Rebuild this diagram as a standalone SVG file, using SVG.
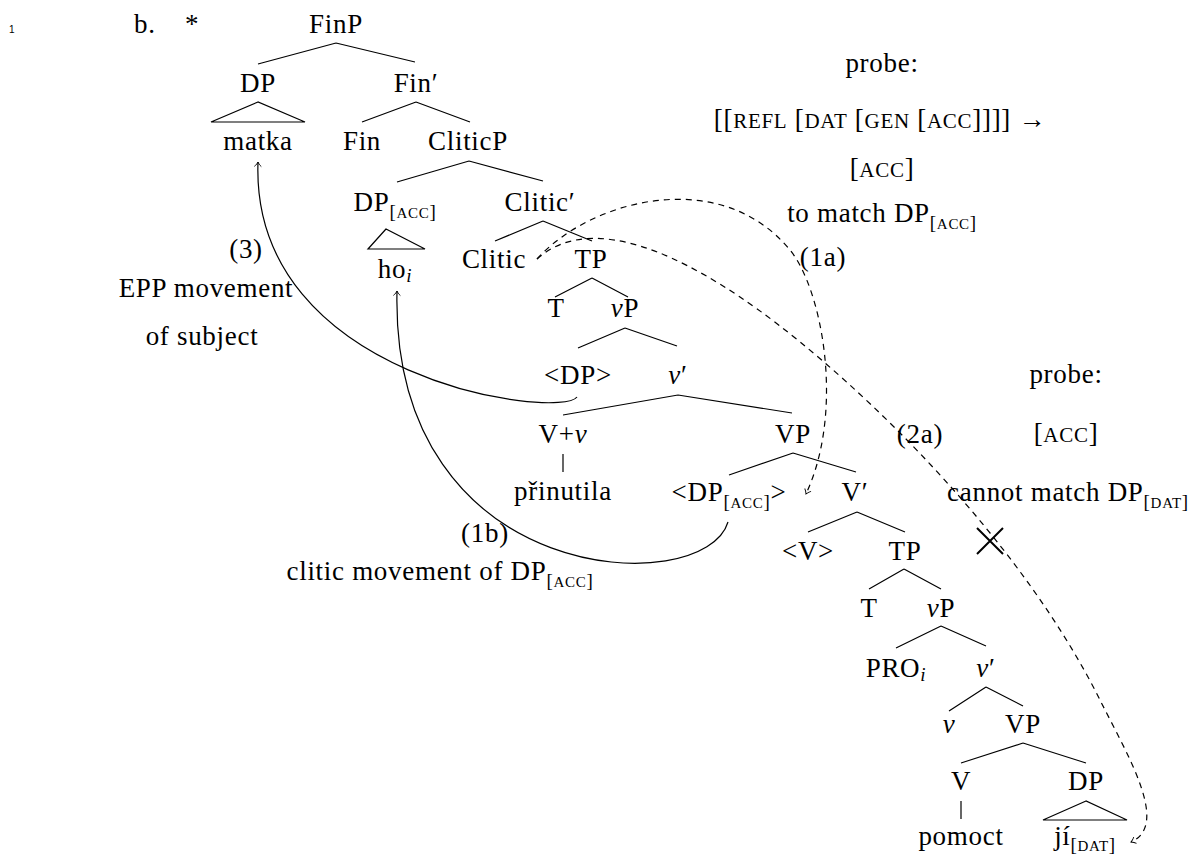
<svg xmlns="http://www.w3.org/2000/svg" width="1196" height="854" viewBox="0 0 1196 854">
<style>
text{font-family:"Liberation Serif","DejaVu Serif",serif;font-size:27px;letter-spacing:0.7px;fill:#000;text-anchor:middle}
.ln{font-family:"Liberation Sans",sans-serif;font-size:10px;letter-spacing:0;text-anchor:start}
.st{text-anchor:start}
.sc{font-size:21px}
.sb{font-size:19px}
.sbc{font-size:15px}
.it{font-style:italic}
.e{stroke:#000;stroke-width:1.2;fill:none}
.d{stroke-dasharray:6 5}
.x{stroke:#000;stroke-width:2;fill:none}
</style>
<defs>
<marker id="ah" viewBox="-6 -5 8 10" markerWidth="8" markerHeight="10" refX="0" refY="0" orient="auto" markerUnits="userSpaceOnUse"><path d="M-4.5,-3.5 C-3,-1.5 -1,-0.5 0,0 C-1,0.5 -3,1.5 -4.5,3.5" fill="none" stroke="#000" stroke-width="0.9"/></marker>
</defs>
<rect width="1196" height="854" fill="#fff"/>
<text class="ln" x="9" y="33">1</text>
<text class="st" x="134" y="33">b.</text>
<text x="192" y="33">*</text>

<g id="connectors">
<path class="e" d="M336,43L258,64M336,43L415,62"/>
<path class="e" d="M258,102L211,122L305,122Z"/>
<path class="e" d="M416,102L362,122M416,102L470,122"/>
<path class="e" d="M469,161L397,182M469,161L543,181"/>
<path class="e" d="M386,229L368,249L425,249Z"/>
<path class="e" d="M543,221L495,241M543,221L592,241"/>
<path class="e" d="M592,278L555,297M592,278L628,297"/>
<path class="e" d="M625,328L578,348M625,328L677,346"/>
<path class="e" d="M678,395L563,415M678,395L792,413"/>
<path class="e" d="M563,454L563,472"/>
<path class="e" d="M793,453L729,475M793,453L856,472"/>
<path class="e" d="M857,512L808,532M857,512L905,532"/>
<path class="e" d="M904,569L869,589M904,569L941,589"/>
<path class="e" d="M941,626L896,648M941,626L986,646"/>
<path class="e" d="M986,687L949,711M986,687L1023,706"/>
<path class="e" d="M1023,743L961,763M1023,743L1086,763"/>
<path class="e" d="M961,801L961,819"/>
<path class="e" d="M1086,801L1043,820L1127,820Z"/>
<path id="arr3" class="e" d="M577,397C560,420 250,380 258,162" marker-end="url(#ah)"/>
<path id="arr1b" class="e" d="M728,522C705,600 390,590 397,291" marker-end="url(#ah)"/>
<path id="arr1a" class="e d" d="M537,259C590,200 720,165 790,250C822,289 845,410 806,494" marker-end="url(#ah)"/>
<path id="arr2a" class="e d" d="M537,259C575,225 640,230 740,297C830,357 1010,520 1100,700C1128,756 1170,825 1131,842" marker-end="url(#ah)"/>
<path class="x" d="M977,528L1003,554M977,554L1003,528"/>
</g>

<g id="n-FinP"><text x="336" y="33">FinP</text></g>
<g id="n-DP1"><text x="258" y="92">DP</text></g>
<g id="n-FinBar"><text x="416" y="92">Fin′</text></g>
<g id="n-matka"><text x="258" y="150">matka</text></g>
<g id="n-Fin"><text x="362" y="150">Fin</text></g>
<g id="n-CliticP"><text x="468" y="150">CliticP</text></g>
<g id="n-DPacc"><text x="395" y="211">DP<tspan class="sb" dy="7">[</tspan><tspan class="sbc">ACC</tspan><tspan class="sb">]</tspan></text></g>
<g id="n-CliticBar"><text x="540" y="211">Clitic′</text></g>
<g id="n-ho"><text x="395" y="278">ho<tspan class="sb it" dy="4">i</tspan></text></g>
<g id="n-Clitic"><text x="494" y="268">Clitic</text></g>
<g id="n-TP1"><text x="591" y="268">TP</text></g>
<g id="n-T1"><text x="556" y="317">T</text></g>
<g id="n-vP1"><text x="625" y="317"><tspan class="it">v</tspan>P</text></g>
<g id="n-DPtrace"><text x="578" y="384">&lt;DP&gt;</text></g>
<g id="n-vBar1"><text x="678" y="384"><tspan class="it">v</tspan>′</text></g>
<g id="n-Vv"><text x="563" y="443">V+<tspan class="it">v</tspan></text></g>
<g id="n-VP1"><text x="793" y="443">VP</text></g>
<g id="n-prinutila"><text x="563" y="500">přinutila</text></g>
<g id="n-DPacctrace"><text x="729" y="501">&lt;DP<tspan class="sb" dy="7">[</tspan><tspan class="sbc">ACC</tspan><tspan class="sb">]</tspan><tspan dy="-7">&gt;</tspan></text></g>
<g id="n-VBar"><text x="855" y="501">V′</text></g>
<g id="n-Vtrace"><text x="808" y="560">&lt;V&gt;</text></g>
<g id="n-TP2"><text x="905" y="560">TP</text></g>
<g id="n-T2"><text x="869" y="617">T</text></g>
<g id="n-vP2"><text x="941" y="617"><tspan class="it">v</tspan>P</text></g>
<g id="n-PRO"><text x="896" y="677">PRO<tspan class="sb it" dy="4">i</tspan></text></g>
<g id="n-vBar2"><text x="986" y="677"><tspan class="it">v</tspan>′</text></g>
<g id="n-v"><text x="949" y="733" class="it">v</text></g>
<g id="n-VP2"><text x="1023" y="733">VP</text></g>
<g id="n-V"><text x="961" y="790">V</text></g>
<g id="n-DP2"><text x="1086" y="790">DP</text></g>
<g id="n-pomoct"><text x="961" y="845">pomoct</text></g>
<g id="n-ji"><text x="1085" y="845">jí<tspan class="sb" dy="6">[</tspan><tspan class="sbc">DAT</tspan><tspan class="sb">]</tspan></text></g>

<g id="label-1a">
<text x="882" y="72">probe:</text>
<text x="880" y="128">[[<tspan class="sc">REFL</tspan> [<tspan class="sc">DAT</tspan> [<tspan class="sc">GEN</tspan> [<tspan class="sc">ACC</tspan>]]]] →</text>
<text x="882" y="177">[<tspan class="sc">ACC</tspan>]</text>
<text x="882" y="222">to match DP<tspan class="sb" dy="7">[</tspan><tspan class="sbc">ACC</tspan><tspan class="sb">]</tspan></text>
<text x="823" y="266">(1a)</text>
</g>
<g id="label-2a">
<text x="1066" y="383">probe:</text>
<text x="1066" y="442">[<tspan class="sc">ACC</tspan>]</text>
<text x="1068" y="501">cannot match DP<tspan class="sb" dy="7">[</tspan><tspan class="sbc">DAT</tspan><tspan class="sb">]</tspan></text>
<text x="920" y="443">(2a)</text>
</g>
<g id="label-3">
<text x="246" y="258">(3)</text>
<text x="206" y="297">EPP movement</text>
<text x="202" y="345">of subject</text>
</g>
<g id="label-1b">
<text x="485" y="542">(1b)</text>
<text x="440" y="580">clitic movement of DP<tspan class="sb" dy="7">[</tspan><tspan class="sbc">ACC</tspan><tspan class="sb">]</tspan></text>
</g>
</svg>
